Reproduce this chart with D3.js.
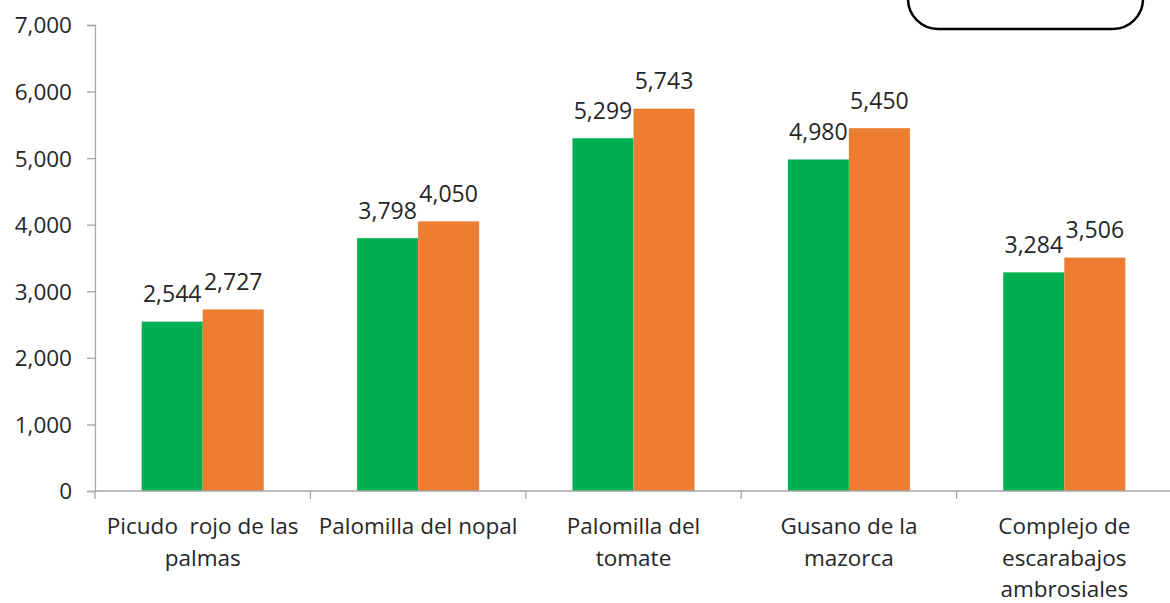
<!DOCTYPE html>
<html><head><meta charset="utf-8">
<script src="https://cdn.jsdelivr.net/npm/d3@7"></script>
<style>body{margin:0;background:#fff}svg{display:block}text{font-family:"Open Sans",sans-serif;fill:#262626}</style>
</head><body><svg id="c" width="1170" height="603"></svg>
<script>
const categories = [["Picudo  rojo de las","palmas"],["Palomilla del nopal"],["Palomilla del","tomate"],["Gusano de la","mazorca"],["Complejo de","escarabajos","ambrosiales"]];
const seriesGreen = [2544, 3798, 5299, 4980, 3284];
const seriesOrange = [2727, 4050, 5743, 5450, 3506];
const yTicks = [0,1000,2000,3000,4000,5000,6000,7000];
const colors = ["#00B050", "#ED7D31"];

(function(){
const svg = d3.select("#c");
const mLeft = 95, mRight = 1172, mTop = 25, mBottom = 491;
const idx = categories.map((d,i)=>i);
const x0 = d3.scaleBand().domain(idx).range([mLeft, mRight]).padding(0);
const x1 = d3.scaleBand().domain([0,1]).range([0, x0.bandwidth()]).paddingInner(0).paddingOuter(0.765);
const y = d3.scaleLinear().domain([0,7000]).range([mBottom, mTop]);
const fmt = d3.format(",");

// y axis
const ya = svg.append("g").attr("transform",`translate(${mLeft},0)`)
  .call(d3.axisLeft(y).tickValues(yTicks).tickFormat(fmt).tickSize(8).tickPadding(15));
ya.select(".domain").attr("stroke","#A6A6A6").attr("stroke-width",1.3);
ya.selectAll(".tick line").attr("stroke","#A6A6A6").attr("stroke-width",1.3);
ya.selectAll(".tick text").style("font-size","22.5px").attr("fill","#262626").style("font-family","'Open Sans',sans-serif").attr("dy","0.35em");

// bars
const groups = svg.append("g").selectAll("g").data(idx).join("g")
  .attr("transform", d=>`translate(${x0(d)},0)`);
groups.selectAll("rect").data(i=>[seriesGreen[i], seriesOrange[i]].map((v,s)=>({v,s})))
  .join("rect")
  .attr("x", d=>x1(d.s)).attr("width", x1.bandwidth())
  .attr("y", d=>y(d.v)).attr("height", d=>y(0)-y(d.v))
  .attr("fill", d=>colors[d.s]);
groups.selectAll("text.lbl").data(i=>[seriesGreen[i], seriesOrange[i]].map((v,s)=>({v,s})))
  .join("text").attr("class","lbl")
  .attr("x", d=>x1(d.s)+x1.bandwidth()/2).attr("y", d=>y(d.v)-19.5)
  .attr("text-anchor","middle").style("font-size","23px").text(d=>fmt(d.v));

// x axis
const xa = svg.append("g");
xa.append("line").attr("x1",mLeft).attr("x2",1170).attr("y1",mBottom).attr("y2",mBottom)
  .attr("stroke","#A6A6A6").attr("stroke-width",1.3);
xa.selectAll("line.t").data(idx.concat([idx.length])).join("line").attr("class","t")
  .attr("x1",d=> d<idx.length? x0(d): mRight).attr("x2",d=> d<idx.length? x0(d): mRight)
  .attr("y1",mBottom).attr("y2",mBottom+8).attr("stroke","#A6A6A6").attr("stroke-width",1.3);
xa.selectAll("text").data(idx).join("text")
  .attr("x", d=>x0(d)+x0.bandwidth()/2).attr("y",534)
  .attr("text-anchor","middle").style("font-size","22.5px").style("white-space","pre")
  .each(function(d){
    const t=d3.select(this);
    categories[d].forEach((ln,k)=>{
      t.append("tspan").attr("x", x0(d)+x0.bandwidth()/2).attr("dy", k===0?0:31.5).text(ln);
    });
  });

// legend box (empty)
svg.append("rect").attr("x",908).attr("y",-40).attr("width",235).attr("height",69)
  .attr("rx",30).attr("fill","#fff").attr("stroke","#000").attr("stroke-width",2.5);
})();
</script></body></html>
